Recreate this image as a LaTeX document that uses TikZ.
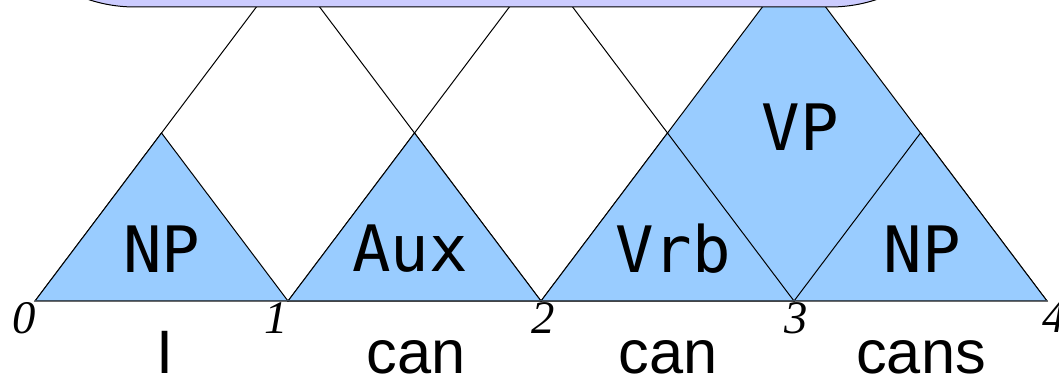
\documentclass[tikz,border=0pt]{standalone}
\usepackage{fontspec}
\setmainfont{Liberation Sans}
\newfontfamily\monofont{DejaVu Sans Mono}
\newfontfamily\numfont{Liberation Serif}
\usetikzlibrary{calc}
\definecolor{azzurro}{RGB}{153,204,255}
\definecolor{lilla}{RGB}{204,204,255}
\definecolor{ardesia}{RGB}{60,78,96}
\tikzset{
  chart/.style={x=0.75pt,y=0.75pt},
  span/.style={draw=black,line width=0.75pt},
  filled span/.style={span,fill=azzurro},
  cat label/.style={font={\monofont\fontsize{48}{48}\selectfont}},
  word label/.style={font={\fontsize{46}{46}\selectfont},anchor=base},
  pos label/.style={font={\numfont\itshape\fontsize{35}{35}\selectfont},anchor=north,inner sep=0pt},
  chart box/.style={draw=black,line width=0.75pt,fill=lilla,rounded corners=111pt}
}
% triangle over the positions #2..#3
\newcommand{\constit}[3][]{
    \path[#1] (p#2)
        -- ($(p#2)!0.5!(p#3)+(0,{168*(#3-#2)})$)
        -- (p#3) -- cycle;
}

\begin{document}
\begin{tikzpicture}[chart]
    \useasboundingbox (0,0) rectangle (1059,378);
    \clip (0,0) rectangle (1059,378);

    \foreach \i in {0,...,4}
        \coordinate (p\i) at ({35+253*\i},77);

    % open spans
    \constit[span]{0}{2}
    \constit[span]{1}{3}
    % VP, then the words' categories
    \constit[filled span]{2}{4}
    \foreach \a/\b in {0/1,1/2,2/3,3/4}
        \constit[filled span]{\a}{\b}
    \draw[ardesia,line width=0.75pt] (p0) -- (p4);

    \path[chart box] (-13,371) rectangle (978,700);

    \node[cat label] (np1) at (162,129) {NP};
    \node[cat label] (aux) at (410,129) {Aux};
    \node[cat label] (vrb) at (673,129) {Vrb};
    \node[cat label] (np2) at (922,129) {NP};
    \node[cat label] (vp) at (800,251) {VP};

    \foreach \x/\n in {24/0,276/1,543/2,796/3,1054/4}
        \node[pos label] (d\n) at (\x,76) {\n};

    \node[word label] (w1) at (165,4) {I};
    \node[word label] (w2) at (416,4) {can};
    \node[word label] (w3) at (668,4) {can};
    \node[word label] (w4) at (921,4) {cans};
\end{tikzpicture}
\end{document}
